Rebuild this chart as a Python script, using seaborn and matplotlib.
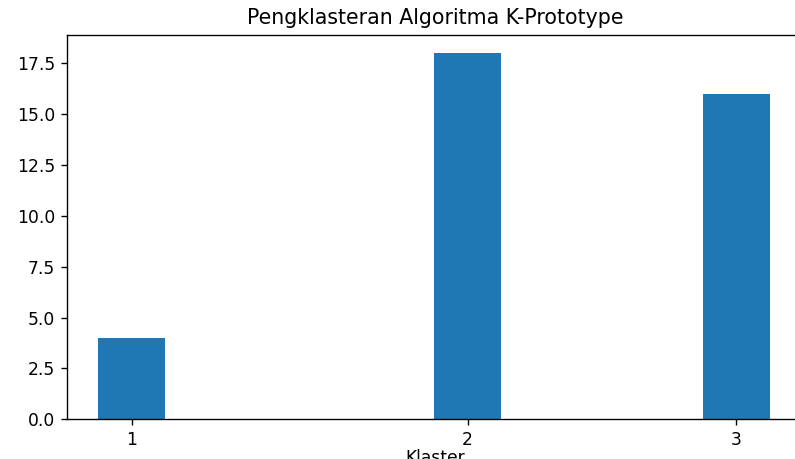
import seaborn as sns
import matplotlib.pyplot as plt

# hasil clustering k-prototype
klaster = ["1", "2", "3"]
posisi = [1.0, 2.0, 2.8]
jumlah = [4, 18, 16]

fig = plt.figure(figsize=(795 / 123, 459 / 123), dpi=123)
ax = fig.add_axes([67 / 795, 39.7 / 459, 736.5 / 795, 384.6 / 459])

sns.barplot(x=posisi, y=jumlah, native_scale=True, width=0.25,
            color="#1f77b4", saturation=1, linewidth=0, ax=ax)

ax.set_xticks(posisi)
ax.set_xticklabels(klaster)
ax.set_yticks([0, 2.5, 5, 7.5, 10, 12.5, 15, 17.5])
ax.set_xlim(0.808, 3.0)
ax.set_ylim(0, 18.9)
ax.spines["right"].set_visible(False)
ax.set_title("Pengklasteran Algoritma K-Prototype")
ax.set_xlabel("Klaster", labelpad=0)
ax.set_ylabel("")

plt.savefig("out.png", dpi=123)
